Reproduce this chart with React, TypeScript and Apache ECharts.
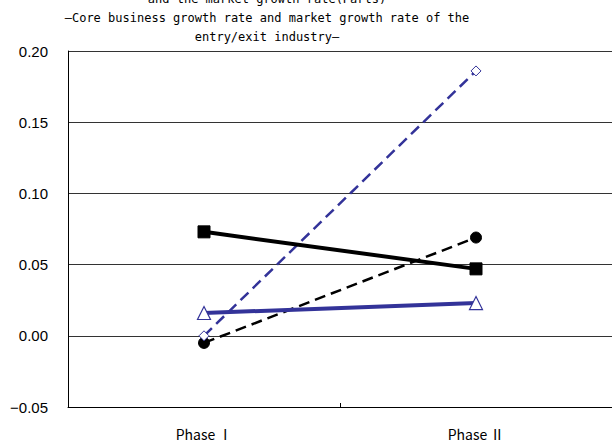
import React, { useEffect, useRef } from "react";
import * as echarts from "echarts";

const categories = ["Phase Ⅰ", "Phase Ⅱ"];
const coreSolidBlack = [0.073, 0.047];
const dashedBlackCircle = [-0.005, 0.069];
const dashedBlueDiamond = [0.0, 0.186];
const solidBlueTriangle = [0.016, 0.023];
const yTicks = { min: -0.05, max: 0.2, interval: 0.05 };
const titleLines = [
  "and the market growth rate(Parts)",
  "—Core business growth rate and market growth rate of the",
  "entry/exit industry—",
];

const BLUE = "#333399";

export default function App() {
  const ref = useRef<HTMLDivElement>(null);
  useEffect(() => {
    const chart = echarts.init(ref.current!, null, { renderer: "svg" });
    const mono = "'DejaVu Sans Mono', monospace";
    chart.setOption({
      animation: false,
      backgroundColor: "#ffffff",
      graphic: titleLines.map((t, i) => ({
        type: "text",
        x: 267,
        y: -1 + i * 19,
        style: {
          text: t,
          font: `12px ${mono}`,
          fill: "#000",
          textAlign: "center",
          textVerticalAlign: "middle",
        },
        z: 10,
      })),
      grid: { left: 68, top: 51, height: 356, width: 550, containLabel: false },
      xAxis: {
        type: "category",
        data: categories,
        boundaryGap: true,
        axisLine: { onZero: false, lineStyle: { color: "#000", width: 1 } },
        axisTick: { show: true, inside: true, length: 4, lineStyle: { color: "#000" } },
        axisLabel: {
          margin: 20,
          fontSize: 14,
          fontFamily: "'Noto Sans CJK JP', sans-serif",
          color: "#000",
        },
        splitLine: { show: false },
      },
      yAxis: {
        type: "value",
        min: yTicks.min,
        max: yTicks.max,
        interval: yTicks.interval,
        axisLine: { show: true, lineStyle: { color: "#000", width: 1 } },
        axisTick: { show: false },
        axisLabel: {
          margin: 20,
          fontSize: 15,
          fontFamily: "'Liberation Sans', Arial, sans-serif",
          color: "#000",
          formatter: (v: number) => (v < 0 ? "−" + Math.abs(v).toFixed(2) : v.toFixed(2)),
        },
        splitLine: { show: true, lineStyle: { color: "#333", width: 1 } },
      },
      series: [
        {
          type: "line",
          data: dashedBlueDiamond,
          symbol: "diamond",
          symbolSize: 10,
          lineStyle: { color: BLUE, width: 2.5, type: [11, 6] },
          itemStyle: { color: "#fff", borderColor: BLUE, borderWidth: 1 },
          z: 3,
        },
        {
          type: "line",
          data: dashedBlackCircle,
          symbol: "circle",
          symbolSize: 11,
          lineStyle: { color: "#000", width: 2.5, type: [11, 6] },
          itemStyle: { color: "#000", borderColor: "#000" },
          z: 2,
        },
        {
          type: "line",
          data: coreSolidBlack,
          symbol: "rect",
          symbolSize: 12,
          lineStyle: { color: "#000", width: 4 },
          itemStyle: { color: "#000", borderColor: "#000" },
          z: 4,
        },
        {
          type: "line",
          data: solidBlueTriangle,
          symbol: "triangle",
          symbolSize: 13,
          lineStyle: { color: BLUE, width: 4 },
          itemStyle: { color: "#fff", borderColor: BLUE, borderWidth: 1.2 },
          z: 5,
        },
      ],
    });
    return () => chart.dispose();
  }, []);
  return (
    <div
      ref={ref}
      style={{ position: "fixed", left: 0, top: 0, width: 612, height: 443 }}
    />
  );
}
